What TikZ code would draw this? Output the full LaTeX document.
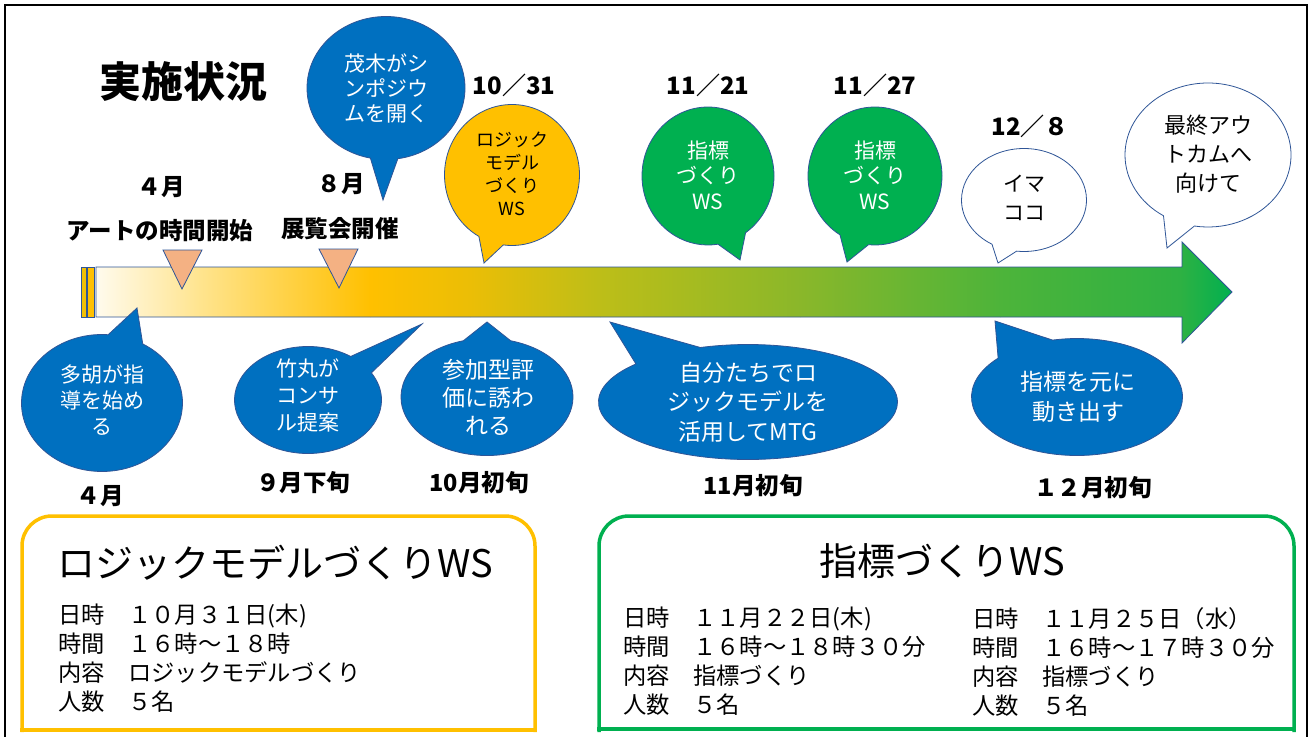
\documentclass[tikz,border=0pt]{standalone}
\usepackage{fontspec}
\setmainfont{Noto Sans CJK JP}
\usetikzlibrary{shapes.callouts,shapes.geometric}
\definecolor{bblue}{HTML}{0070C0}
\definecolor{edge}{HTML}{2F5597}
\definecolor{gold}{HTML}{FFC000}
\definecolor{wgreen}{HTML}{00B050}
\definecolor{tri}{HTML}{F4B183}
\definecolor{g0}{HTML}{FFFBEE}
\definecolor{g1}{HTML}{FFE48E}
\definecolor{g2}{HTML}{FFC000}
\definecolor{g3}{HTML}{EBBE06}
\definecolor{g4}{HTML}{BDBE18}
\definecolor{g5}{HTML}{8AB72A}
\definecolor{g6}{HTML}{4DB43A}
\definecolor{g7}{HTML}{2EB143}
\definecolor{g8}{HTML}{00B050}
\newcommand\myfs[2]{\fontsize{#1}{#2}\selectfont}
\begin{document}
\begin{tikzpicture}[x=1pt,y=-1pt,
  bub/.style={ellipse callout, draw=edge, line width=0.8pt, inner sep=0pt, outer sep=0pt},
  bluebub/.style={bub, fill=bblue},
  greenbub/.style={bub, fill=wgreen},
  wt/.style={text=white, align=center, inner sep=0pt},
  bt/.style={text=black, align=center, inner sep=0pt},
  lbl/.style={font=\bfseries\myfs{23.5}{28}, inner sep=0pt},
  datelbl/.style={font=\bfseries\myfs{24}{28}, inner sep=0pt},
  marker/.style={fill=tri, draw=edge, line width=0.8pt},
  boxtxt/.style={font=\myfs{23.3}{29}, align=left, anchor=west, inner sep=0pt}
]
\useasboundingbox (0,0) rectangle (1311,736);
\clip (0,0) rectangle (1311,736);
\fill[white] (0,0) rectangle (1311,736);
% outer frame
\draw[line width=2.5pt] (5,745) -- (5,5) -- (1307,5) -- (1307,745);

% title
\node[font=\bfseries\myfs{42}{48}, inner sep=0pt] (title) at (183,82) {実施状況};

% top labels
\node[lbl] (m4) at (161,187) {４月};
\node[lbl] (art) at (160,231) {アートの時間開始};
\node[lbl] (m8) at (341,184) {８月};
\node[lbl] (ten) at (340,229) {展覧会開催};

\node[datelbl] (d1) at (514,85) {10／31};
\node[datelbl] (d2) at (708,85) {11／21};
\node[datelbl] (d3) at (875,85) {11／27};
\node[datelbl] (d4) at (1030,126) {12／８};

% arrow
\begin{scope}
\clip (96,267) -- (1182,267) -- (1182,242) -- (1232,292) -- (1182,343) -- (1182,317) -- (96,317) -- cycle;
\shade[left color=g0, right color=g1] (95,240) rectangle (200.5,345);
\shade[left color=g1, right color=g2] (200,240) rectangle (370.5,345);
\shade[left color=g2, right color=g3] (370,240) rectangle (470.5,345);
\shade[left color=g3, right color=g4] (470,240) rectangle (600.5,345);
\shade[left color=g4, right color=g5] (600,240) rectangle (800.5,345);
\shade[left color=g5, right color=g6] (800,240) rectangle (1000.5,345);
\shade[left color=g6, right color=g7] (1000,240) rectangle (1180.5,345);
\shade[left color=g7, right color=g8] (1180,240) rectangle (1233,345);
\end{scope}
\draw[edge, line width=0.8pt] (96,267) -- (1182,267) -- (1182,242) -- (1232,292) -- (1182,343) -- (1182,317) -- (96,317) -- cycle;
\filldraw[fill=g2!80!g4, draw=edge, line width=0.6pt] (81,267) rectangle (86,317);
\filldraw[fill=g2, draw=edge, line width=0.6pt] (87,267) rectangle (94,317);

% markers
\filldraw[marker] (163,250) -- (202,250) -- (182,289) -- cycle;
\filldraw[marker] (319,249) -- (358,249) -- (339,288) -- cycle;

% pointer tips
\coordinate (p1) at (383,200);
\coordinate (p2) at (484,263);
\coordinate (p3) at (740,260);
\coordinate (p4) at (847,262);
\coordinate (p5) at (998,263);
\coordinate (p6) at (1167,248);
\coordinate (p7) at (137,308);
\coordinate (p8) at (422,324);
\coordinate (p9) at (487,322);
\coordinate (p10) at (610,322);
\coordinate (p11) at (995,321);

% top bubbles
\node[bluebub, minimum width=158pt, minimum height=143pt, callout absolute pointer={(p1)}, callout pointer arc=20] (b1) at (386,88) {};
\node[wt, font=\myfs{21}{25}] (t1) at (b1.center) {茂木がシ\\ンポジウ\\ムを開く};

\node[bub, fill=gold, minimum width=135pt, minimum height=141pt, callout absolute pointer={(p2)}, callout pointer arc=22] (b2) at (512,175) {};
\node[bt, font=\myfs{18}{23}] (t2) at (512,174) {ロジック\\モデル\\づくり\\WS};

\node[greenbub, minimum width=132pt, minimum height=138pt, callout absolute pointer={(p3)}, callout pointer arc=26] (b3) at (708,176) {};
\node[wt, font=\myfs{21}{25.5}] (t3) at (708,175) {指標\\づくり\\WS};

\node[greenbub, minimum width=134pt, minimum height=138pt, callout absolute pointer={(p4)}, callout pointer arc=26] (b4) at (875,176) {};
\node[wt, font=\myfs{21}{25.5}] (t4) at (875,175) {指標\\づくり\\WS};

\node[bub, fill=white, minimum width=125pt, minimum height=103pt, callout absolute pointer={(p5)}, callout pointer arc=24] (b5) at (1024,200) {};
\node[bt, font=\myfs{21}{29}] (t5) at (1024,198) {イマ\\ココ};

\node[bub, fill=white, minimum width=166pt, minimum height=144pt, callout absolute pointer={(p6)}, callout pointer arc=23] (b6) at (1208,155) {};
\node[bt, font=\myfs{22}{29}] (t6) at (1208,154) {最終アウ\\トカムへ\\向けて};

% bottom bubbles
\node[bluebub, minimum width=161pt, minimum height=137pt, callout absolute pointer={(p7)}, callout pointer arc=26] (b7) at (102,403) {};
\node[wt, font=\myfs{21}{26}] (t7) at (102,400) {多胡が指\\導を始め\\る};

\node[bluebub, minimum width=147pt, minimum height=107pt, callout absolute pointer={(p8)}, callout pointer arc=24] (b8) at (308,400) {};
\node[wt, font=\myfs{21}{27}] (t8) at (308,395) {竹丸が\\コンサ\\ル提案};

\node[bluebub, minimum width=172pt, minimum height=117pt, callout absolute pointer={(p9)}, callout pointer arc=32] (b9) at (487,397) {};
\node[wt, font=\myfs{23}{28}] (t9) at (488,397) {参加型評\\価に誘わ\\れる};

\node[bluebub, minimum width=299pt, minimum height=115pt, callout absolute pointer={(p10)}, callout pointer arc=30] (b10) at (748,402) {};
\node[wt, font=\myfs{23}{29.5}] (t10) at (748,402) {自分たちでロ\\ジックモデルを\\活用してMTG};

\node[bluebub, minimum width=211pt, minimum height=117pt, callout absolute pointer={(p11)}, callout pointer arc=35] (b11) at (1077,397) {};
\node[wt, font=\myfs{23}{30}] (t11) at (1078,397) {指標を元に\\動き出す};

% bottom labels
\node[lbl] (l1) at (100,496) {４月};
\node[lbl] (l2) at (303,483) {９月下旬};
\node[lbl] (l3) at (479,483) {10月初旬};
\node[lbl] (l4) at (753,486) {11月初旬};
\node[lbl] (l5) at (1093,488) {１２月初旬};

% yellow box
\draw[gold, line width=3.5pt] (22,732) -- (22,546) arc[start angle=180, end angle=270, radius=30] -- (505,516) arc[start angle=270, end angle=360, radius=30] -- (535,732);
\draw[gold, line width=3.5pt] (20.25,730) -- (536.75,730);
\node[font=\myfs{38}{42}, inner sep=0pt] (ytitle) at (275,563) {ロジックモデルづくりWS};
\node[boxtxt] (ytxt) at (58,658.5) {日時　１０月３１日(木)\\時間　１６時～１８時\\内容　ロジックモデルづくり\\人数　５名};

% green box
\draw[wgreen, line width=3.5pt] (599,732) -- (599,546) arc[start angle=180, end angle=270, radius=30] -- (1264,516) arc[start angle=270, end angle=360, radius=30] -- (1294,732);
\draw[wgreen, line width=3.5pt] (597.25,729) -- (1295.75,729);
\node[font=\myfs{38}{42}, inner sep=0pt] (gtitle) at (942,561) {指標づくりWS};
\node[boxtxt] (gtxt1) at (623,661.5) {日時　１１月２２日(木)\\時間　１６時～１８時３０分\\内容　指標づくり\\人数　５名};
\node[boxtxt] (gtxt2) at (972,661.5) {日時　１１月２５日（水）\\時間　１６時～１７時３０分\\内容　指標づくり\\人数　５名};
\end{tikzpicture}
\end{document}
